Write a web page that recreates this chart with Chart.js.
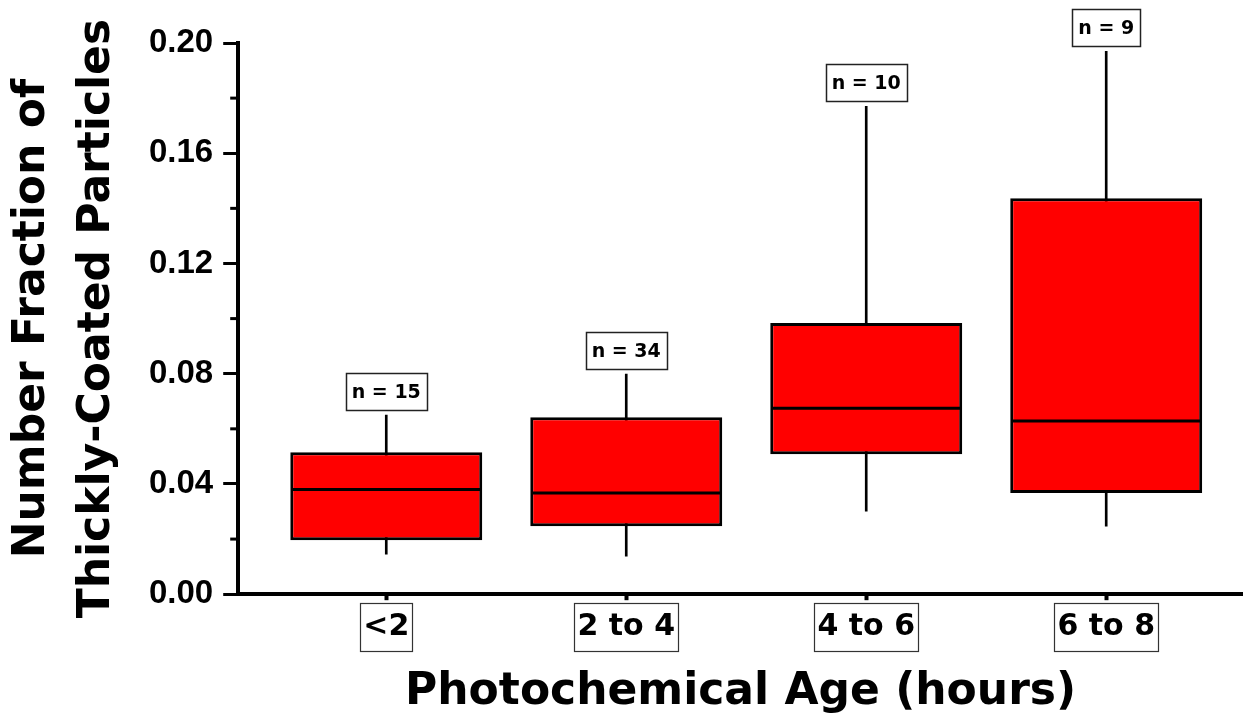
<!DOCTYPE html>
<html>
<head>
<meta charset="utf-8">
<script src="https://cdn.jsdelivr.net/npm/chart.js@4.4.1/dist/chart.umd.min.js"></script>
<style>
  html, body { margin: 0; padding: 0; background: #fff; }
  #wrap { width: 1243px; height: 719px; position: relative; }
</style>
</head>
<body>
<div id="wrap"><canvas id="chart"></canvas></div>
<script>
// Box plot values
const categories  = ['<2', '2 to 4', '4 to 6', '6 to 8'];
const whiskerLow  = [0.0145, 0.0138, 0.0301, 0.0247];
const boxLow      = [0.0196, 0.0247, 0.0508, 0.0367];
const medians     = [0.0380, 0.0367, 0.0675, 0.0628];
const boxHigh     = [0.0515, 0.0642, 0.0984, 0.1437];
const whiskerHigh = [0.0650, 0.0799, 0.1770, 0.1970];
const sampleSizes = [15, 34, 10, 9];

const positions = categories.map((c, i) => i + 1);

// Extra bits the library doesn't draw: minor y ticks, "n = " boxes, framed x labels
const annotations = {
  id: 'annotations',
  afterDraw(chart) {
    const ctx = chart.ctx;
    const xs = chart.scales.x;
    const ys = chart.scales.y;
    ctx.save();

    // minor ticks
    ctx.strokeStyle = '#000';
    ctx.lineWidth = 3;
    ys.ticks.forEach((t, i) => {
      if (i % 2 === 0) return;
      const py = ys.getPixelForValue(t.value);
      ctx.beginPath();
      ctx.moveTo(ys.right - 8, py);
      ctx.lineTo(ys.right, py);
      ctx.stroke();
    });

    // sample size labels
    ctx.font = 'bold 19px "DejaVu Sans"';
    ctx.textAlign = 'center';
    ctx.textBaseline = 'middle';
    sampleSizes.forEach((n, i) => {
      const text = 'n = ' + n;
      const cx = xs.getPixelForValue(positions[i]);
      const bottom = ys.getPixelForValue(whiskerHigh[i]) - 5;
      const w = Math.round(ctx.measureText(text).width + 12);
      const h = 37;
      const left = Math.round(cx - w / 2) + 0.5;
      const top = Math.round(bottom - h) + 0.5;
      ctx.fillStyle = '#fff';
      ctx.fillRect(left, top, w, h);
      ctx.lineWidth = 1.5;
      ctx.strokeStyle = '#222';
      ctx.strokeRect(left, top, w, h);
      ctx.fillStyle = '#000';
      ctx.fillText(text, cx, top + h / 2 + 1);
    });

    // frames round the category labels
    ctx.font = 'bold 30px "DejaVu Sans"';
    ctx.lineWidth = 1.2;
    ctx.strokeStyle = '#333';
    const cy = xs.top + 6 + 9 + 18;
    xs.ticks.forEach((t, i) => {
      const cx = xs.getPixelForValue(t.value);
      const w = Math.round(ctx.measureText(categories[i]).width + 6);
      const h = 48;
      ctx.strokeRect(Math.round(cx - w / 2) + 0.5, Math.round(cy - h / 2) + 0.5, w, h);
    });

    ctx.restore();
  }
};

new Chart(document.getElementById('chart'), {
  type: 'bar',
  data: {
    datasets: [
      {
        type: 'scatter',
        label: 'Median',
        data: positions.map((x, i) => ({ x: x, y: medians[i] })),
        pointStyle: 'line',
        pointRadius: 95,
        pointBorderWidth: 3,
        pointBorderColor: '#000',
        order: 1
      },
      {
        label: 'Box',
        data: positions.map((x, i) => ({ x: x, y: [boxLow[i], boxHigh[i]] })),
        backgroundColor: '#ff0000',
        borderColor: '#000',
        borderWidth: 3,
        borderSkipped: false,
        grouped: false,
        categoryPercentage: 1,
        barPercentage: 0.8,
        order: 2
      },
      {
        label: 'Whisker',
        data: positions.map((x, i) => ({ x: x, y: [whiskerLow[i], whiskerHigh[i]] })),
        backgroundColor: '#000',
        borderWidth: 0,
        barThickness: 2,
        grouped: false,
        order: 3
      }
    ]
  },
  options: {
    responsive: true,
    maintainAspectRatio: false,
    animation: false,
    events: [],
    layout: { autoPadding: false, padding: { left: 0, top: 43, right: 0, bottom: 0 } },
    plugins: {
      legend: { display: false },
      tooltip: { enabled: false }
    },
    scales: {
      x: {
        type: 'linear',
        min: 0.383,
        max: 4.57,
        offset: false,
        afterBuildTicks: (scale) => {
          scale.ticks = positions.map(v => ({ value: v }));
        },
        grid: {
          offset: false,
          drawOnChartArea: false,
          tickLength: 6,
          tickWidth: 4,
          tickColor: '#000'
        },
        border: { width: 4, color: '#000' },
        ticks: {
          autoSkip: false,
          maxRotation: 0,
          padding: 9,
          color: '#000',
          font: { family: 'DejaVu Sans', size: 30, weight: 'bold' },
          callback: (value, index) => categories[index]
        },
        title: {
          display: true,
          text: 'Photochemical Age (hours)',
          color: '#000',
          font: { family: 'DejaVu Sans', size: 44, weight: 'bold', lineHeight: 1.2 },
          padding: { top: 12, bottom: 0 }
        }
      },
      y: {
        min: 0,
        max: 0.2,
        grid: {
          drawOnChartArea: false,
          tickLength: 15,
          tickWidth: 3,
          tickColor: (c) => (c.index % 2 ? 'rgba(0,0,0,0)' : '#000')
        },
        border: { width: 4, color: '#000' },
        ticks: {
          stepSize: 0.02,
          autoSkip: false,
          padding: 10,
          color: '#000',
          font: { family: 'Liberation Sans', size: 33, weight: 'bold' },
          callback: (value, index) => (index % 2 ? '' : value.toFixed(2))
        },
        title: {
          display: true,
          text: ['Number Fraction of', 'Thickly-Coated Particles'],
          color: '#000',
          font: { family: 'DejaVu Sans', size: 44, weight: 'bold', lineHeight: 1.477 },
          padding: { top: 0, bottom: 9 }
        }
      }
    }
  },
  plugins: [annotations]
});
</script>
</body>
</html>
